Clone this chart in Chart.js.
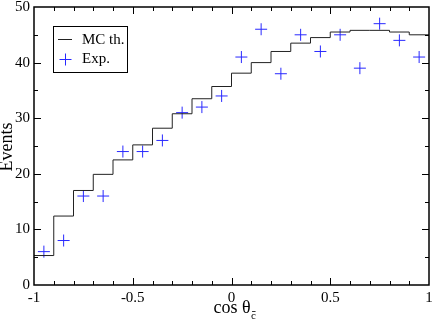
<!DOCTYPE html>
<html>
<head>
<meta charset="utf-8">
<script src="https://cdn.jsdelivr.net/npm/chart.js@4"></script>
<style>
  body { margin: 0; background: #fff; }
  #wrap { width: 436px; height: 322px; position: relative; }
</style>
</head>
<body>
<div id="wrap"><canvas id="chart"></canvas></div>
<script>
// bin edges of cos(theta), 20 bins of 0.1
const binEdges = [-1, -0.9, -0.8, -0.7, -0.6, -0.5, -0.4, -0.3, -0.2, -0.1, 0,
                  0.1, 0.2, 0.3, 0.4, 0.5, 0.6, 0.7, 0.8, 0.9, 1];
const binCenters = [-0.95, -0.85, -0.75, -0.65, -0.55, -0.45, -0.35, -0.25, -0.15, -0.05,
                    0.05, 0.15, 0.25, 0.35, 0.45, 0.55, 0.65, 0.75, 0.85, 0.95];
const mcValues = [5.3, 12.4, 17.0, 19.9, 22.5, 25.2, 28.2, 30.8, 33.5, 35.7,
                  38.1, 40.0, 42.0, 43.5, 44.5, 45.5, 45.8, 45.8, 45.5, 45.0];
const expValues = [6, 8, 16, 16, 24, 24, 26, 31, 32, 34,
                   41, 46, 38, 45, 42, 45, 39, 47, 44, 41];
const xTicks = [-1, -0.5, 0, 0.5, 1];
const yTicks = [0, 10, 20, 30, 40, 50];
const seriesNames = ['MC th.', 'Exp.'];

const serif = "'Liberation Serif', 'DejaVu Serif', serif";
const expColor = 'rgb(40,40,255)';

// step line: each bin value starts at its left edge, last value closed at x=1
const mcPoints = binEdges.map((e, i) => ({ x: e, y: mcValues[Math.min(i, mcValues.length - 1)] }));
const expPoints = binCenters.map((c, i) => ({ x: c, y: expValues[i] }));

const frame = {
  id: 'frame',
  afterDraw(chart) {
    const { ctx, chartArea: a, scales: { x, y } } = chart;
    ctx.save();
    ctx.strokeStyle = '#000';
    ctx.lineWidth = 1;
    // inward ticks on all four sides
    for (let i = 1; i < 20; i++) {
      const px = Math.round(x.getPixelForValue(-1 + i * 0.1)) + 0.5;
      const len = i % 5 === 0 ? 7 : 4;
      ctx.beginPath();
      ctx.moveTo(px, a.bottom); ctx.lineTo(px, a.bottom - len);
      ctx.moveTo(px, a.top); ctx.lineTo(px, a.top + len);
      ctx.stroke();
    }
    for (let v = 5; v < 50; v += 5) {
      const py = Math.round(y.getPixelForValue(v)) + 0.5;
      const len = v % 10 === 0 ? 7 : 4;
      ctx.beginPath();
      ctx.moveTo(a.left, py); ctx.lineTo(a.left + len, py);
      ctx.moveTo(a.right, py); ctx.lineTo(a.right - len, py);
      ctx.stroke();
    }
    ctx.lineWidth = 1.5;
    ctx.strokeRect(a.left, a.top, a.right - a.left, a.bottom - a.top);

    // legend box
    ctx.lineWidth = 1;
    ctx.strokeRect(53.5, 26.5, 74, 46);
    ctx.beginPath();
    ctx.strokeStyle = '#222';
    ctx.moveTo(58, 39.5); ctx.lineTo(72, 39.5);
    ctx.stroke();
    ctx.strokeStyle = expColor;
    ctx.beginPath();
    ctx.moveTo(59.5, 59.5); ctx.lineTo(71.5, 59.5);
    ctx.moveTo(65.5, 53.5); ctx.lineTo(65.5, 65.5);
    ctx.stroke();
    ctx.fillStyle = '#000';
    ctx.font = '15px ' + serif;
    ctx.textBaseline = 'middle';
    ctx.textAlign = 'left';
    ctx.fillText(seriesNames[0], 82, 40);
    ctx.fillText(seriesNames[1], 82, 59);

    // axis titles
    ctx.font = '18px ' + serif;
    ctx.textBaseline = 'alphabetic';
    ctx.textAlign = 'left';
    const main = 'cos θ';
    const w = ctx.measureText(main).width;
    const x0 = 234 - w / 2 - 2;
    ctx.fillText(main, x0, 313);
    ctx.font = '11px ' + serif;
    ctx.fillText('c', x0 + w + 0.5, 319);
    ctx.lineWidth = 0.8;
    ctx.strokeStyle = '#000';
    ctx.beginPath();
    ctx.moveTo(x0 + w + 1.5, 311.5); ctx.lineTo(x0 + w + 5, 311.5);
    ctx.stroke();

    ctx.font = '18px ' + serif;
    ctx.translate(12, 147);
    ctx.rotate(-Math.PI / 2);
    ctx.textAlign = 'center';
    ctx.fillText('Events', 0, 0);
    ctx.restore();
  }
};

new Chart(document.getElementById('chart'), {
  type: 'scatter',
  data: {
    datasets: [{
        label: seriesNames[0],
        data: mcPoints,
        showLine: true,
        stepped: 'before',
        borderColor: '#222',
        borderWidth: 1,
        pointRadius: 0,
        fill: false
      },
      {
        label: seriesNames[1],
        data: expPoints,
        pointStyle: 'cross',
        pointRadius: 6,
        borderColor: expColor,
        borderWidth: 1,
        backgroundColor: expColor
      }
    ]
  },
  options: {
    responsive: true,
    maintainAspectRatio: false,
    animation: false,
    layout: { padding: { top: 6, right: 5, left: 0, bottom: 0 } },
    plugins: { legend: { display: false }, tooltip: { enabled: false } },
    scales: {
      x: {
        type: 'linear',
        min: -1,
        max: 1,
        afterBuildTicks: s => { s.ticks = xTicks.map(v => ({ value: v })); },
        afterFit: s => { s.height = 37; s.paddingLeft = 0; s.paddingRight = 0; },
        grid: { display: false, drawTicks: false },
        border: { display: false },
        ticks: {
          color: '#000',
          padding: 4,
          maxRotation: 0,
          font: { family: serif, size: 15 },
          callback: v => String(v)
        }
      },
      y: {
        min: 0,
        max: 50,
        afterBuildTicks: s => { s.ticks = yTicks.map(v => ({ value: v })); },
        afterFit: s => { s.width = 34; s.paddingTop = 0; s.paddingBottom = 0; },
        grid: { display: false, drawTicks: false },
        border: { display: false },
        ticks: {
          color: '#000',
          padding: 4,
          font: { family: serif, size: 15 }
        }
      }
    }
  },
  plugins: [frame]
});
</script>
</body>
</html>
